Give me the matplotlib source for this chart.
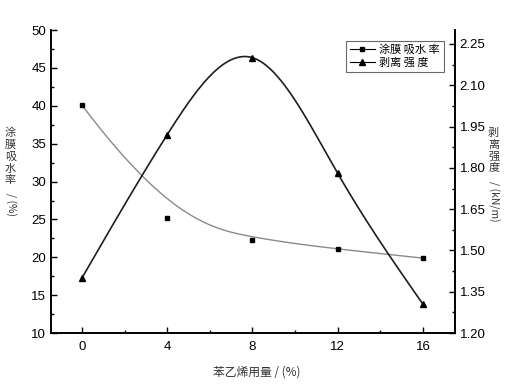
import numpy as np
import matplotlib
matplotlib.use("Agg")
import matplotlib.pyplot as plt
from matplotlib.ticker import MultipleLocator

plt.rcParams['font.family'] = ['Liberation Sans', 'Noto Sans CJK SC', 'DejaVu Sans']

styrene = [0, 4, 8, 12, 16]
water_abs = [40.1, 25.2, 22.3, 21.1, 19.9]
peel = [1.40, 1.92, 2.20, 1.78, 1.305]

legend_labels = ['涂膜 吸水 率', '剥离 强 度']
xticks = [0, 4, 8, 12, 16]


def bspline(px, py, n=200):
    """clamped cubic B-spline using the points as control points"""
    pts = np.column_stack([px, py]).astype(float)
    m = len(pts)
    k = 3
    inner = np.linspace(0, 1, m - k + 1)[1:-1]
    knots = np.concatenate([[0] * (k + 1), inner, [1] * (k + 1)])
    t = np.linspace(0, 1 - 1e-9, n)
    N = np.zeros((n, len(knots) - 1))
    for i in range(len(knots) - 1):
        N[:, i] = (t >= knots[i]) & (t < knots[i + 1])
    for d in range(1, k + 1):
        Nn = np.zeros((n, len(knots) - 1 - d))
        for i in range(len(knots) - 1 - d):
            a = 0.0
            den1 = knots[i + d] - knots[i]
            den2 = knots[i + d + 1] - knots[i + 1]
            if den1 > 0:
                a = (t - knots[i]) / den1 * N[:, i]
            b = 0.0
            if den2 > 0:
                b = (knots[i + d + 1] - t) / den2 * N[:, i + 1]
            Nn[:, i] = a + b
        N = Nn
    curve = N @ pts
    curve[-1] = pts[-1]
    return curve[:, 0], curve[:, 1]


def natural_spline(px, py, n=200):
    x = np.asarray(px, float)
    y = np.asarray(py, float)
    m = len(x)
    h = np.diff(x)
    A = np.zeros((m, m))
    r = np.zeros(m)
    A[0, 0] = A[-1, -1] = 1
    for i in range(1, m - 1):
        A[i, i - 1] = h[i - 1]
        A[i, i] = 2 * (h[i - 1] + h[i])
        A[i, i + 1] = h[i]
        r[i] = 6 * ((y[i + 1] - y[i]) / h[i] - (y[i] - y[i - 1]) / h[i - 1])
    M = np.linalg.solve(A, r)
    xs = np.linspace(x[0], x[-1], n)
    idx = np.clip(np.searchsorted(x, xs) - 1, 0, m - 2)
    x0, x1 = x[idx], x[idx + 1]
    hh = x1 - x0
    ys = (M[idx] * (x1 - xs) ** 3 / (6 * hh) + M[idx + 1] * (xs - x0) ** 3 / (6 * hh)
          + (y[idx] / hh - M[idx] * hh / 6) * (x1 - xs)
          + (y[idx + 1] / hh - M[idx + 1] * hh / 6) * (xs - x0))
    return xs, ys


fig = plt.figure(figsize=(5.10, 3.91), dpi=100)
ax = fig.add_axes([0.1, 0.148, 0.792, 0.775])
ax2 = ax.twinx()

bx, by = bspline(styrene, water_abs)
ax.plot(bx, by, color='#8a8a8a', lw=1.0)
ax.plot(styrene, water_abs, 's', color='black', ms=3.5, ls='none')

sx, sy = natural_spline(styrene, peel)
ax2.plot(sx, sy, color='#1e1e1e', lw=1.2)
ax2.plot(styrene, peel, '^', color='black', ms=3.8, ls='none')

ax.set_xlim(-1.45, 17.5)
ax.set_ylim(10, 50)
ax2.set_ylim(1.2, 2.3)
ax.set_xticks(xticks)
ax.xaxis.set_minor_locator(MultipleLocator(2))
ax.yaxis.set_major_locator(MultipleLocator(5))
ax.yaxis.set_minor_locator(MultipleLocator(2.5))
ax2.set_yticks(np.arange(1.2, 2.26, 0.15))
ax2.yaxis.set_minor_locator(MultipleLocator(0.075))
ax2.set_yticklabels(['%.2f' % v for v in np.arange(1.2, 2.26, 0.15)])

for a in (ax, ax2):
    a.spines['top'].set_visible(False)
    for s in a.spines.values():
        s.set_linewidth(1.2)
ax.tick_params(axis='both', which='both', direction='in', labelsize=9.5)
ax.tick_params(axis='y', which='major', length=4, width=1)
ax.tick_params(axis='y', which='minor', length=2.5, width=1)
ax.tick_params(axis='x', which='major', length=4, width=1, pad=6)
ax.tick_params(axis='x', which='minor', length=2.5, width=1)
ax.tick_params(axis='x', which='both', top=False)
ax.tick_params(axis='y', which='both', right=False)
ax2.tick_params(axis='y', which='major', direction='in', length=4, width=1, labelsize=9.5)
ax2.tick_params(axis='y', which='minor', direction='in', length=2.5, width=1)

# axis titles: upright stacked characters, rotated latin part
cjk = ['Noto Sans CJK SC', 'DejaVu Sans']
fig.text(0.02, 1 - 128 / 391, '涂\n膜\n吸\n水\n率', family=cjk, fontsize=8, ha='center', va='top',
         linespacing=1.2, color='#333333')
fig.text(0.02, 1 - 193 / 391, '/ (%)', family=cjk, fontsize=7.5, ha='center', va='top',
         rotation=-90, color='#333333')
fig.text(0.968, 1 - 128 / 391, '剥\n离\n强\n度', family=cjk, fontsize=8, ha='center', va='top',
         linespacing=1.2, color='#333333')
fig.text(0.968, 1 - 181 / 391, '/ (kN/m)', family=cjk, fontsize=7.5, ha='center', va='top',
         rotation=-90, color='#333333')
fig.text(0.503, 1 - 372 / 391, '苯乙烯用量 / (%)', family=cjk, fontsize=8.5, style='italic',
         ha='center', va='center', color='#333333')

h1, = ax.plot([], [], '-s', color='black', ms=3.5, lw=0.8)
h2, = ax.plot([], [], '-^', color='black', ms=3.8, lw=0.8)
leg = ax.legend([h1, h2], legend_labels, loc='upper right', bbox_to_anchor=(0.972, 0.965),
                prop={'family': cjk, 'size': 8}, frameon=True, fancybox=False,
                handlelength=2.2, borderpad=0.35, labelspacing=0.25, handletextpad=0.4,
                borderaxespad=0)
leg.get_frame().set_edgecolor('#444444')
leg.get_frame().set_linewidth(0.8)

fig.savefig('out.png', dpi=100)
